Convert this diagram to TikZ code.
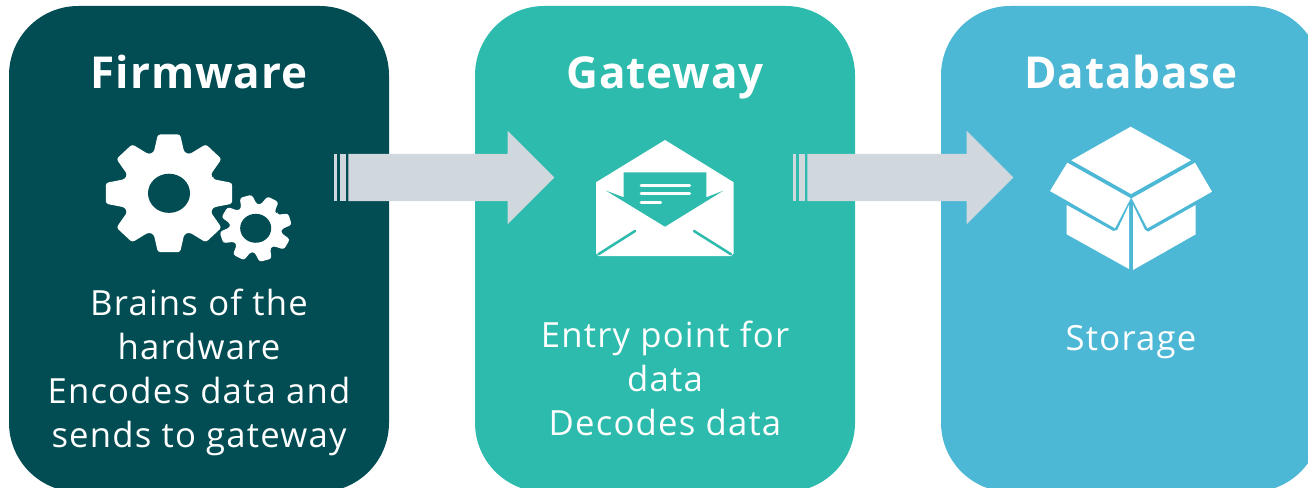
\documentclass[tikz,border=0pt]{standalone}
\usepackage{fontspec}
\setmainfont[LetterSpace=2]{Open Sans}
\newfontfamily\bodyfont[LetterSpace=3.5]{Open Sans}
\usetikzlibrary{shapes.arrows}
\definecolor{fwcolor}{HTML}{014D53}
\definecolor{gwcolor}{HTML}{2CBBAC}
\definecolor{dbcolor}{HTML}{4DB8D5}
\definecolor{arcolor}{HTML}{D0D8DE}
\tikzset{
	stagebox/.style={rounded corners=52pt, minimum width=285pt, minimum height=364.5pt, inner sep=0pt},
	titlelabel/.style={text=white, font=\fontsize{33}{36}\selectfont\bfseries, inner sep=0pt},
	bodylabel/.style={text=white, font=\bodyfont\fontsize{26}{33}\selectfont, align=center, inner sep=0pt},
	flowarrow/.style={single arrow, fill=arcolor, anchor=west, inner xsep=0pt, inner ysep=17.6pt, minimum height=154.5pt,
		single arrow head extend=17.25pt, single arrow tip angle=90},
	gaptick/.style={fill=arcolor}
}
\newcommand{\gearpath}[8]{% center, offset, outer, root, tip angle, base angle, hole, hole colour
	\begin{scope}[shift={#1}, xscale=1.035, yscale=.965]
	\fill[white, rounded corners=2pt] (#2-#6:#4)
	\foreach \k in {0,...,7} {
		-- (#2+\k*45-#6:#4) -- (#2+\k*45-#5:#3) -- (#2+\k*45+#5:#3) -- (#2+\k*45+#6:#4)
	} -- cycle;
	\fill[#8] (0,0) circle[radius=#7];
	\end{scope}
}
\begin{document}
\begin{tikzpicture}[x=.75pt, y=-.75pt]
	\useasboundingbox (0,0) rectangle (1308,488);
	\clip (0,0) rectangle (1308,488);
	\node[stagebox, fill=fwcolor] (firmware) at (199,249) {};
	\node[stagebox, fill=gwcolor] (gateway) at (665,249) {};
	\node[stagebox, fill=dbcolor] (database) at (1131,249) {};

	\node[titlelabel, anchor=base] (fwtitle) at (199,89) {Firmware};
	\node[titlelabel, anchor=base] (gwtitle) at (665,89) {Gateway};
	\node[titlelabel, anchor=base] (dbtitle) at (1131,89) {Database};

	\node[bodylabel] (fwtext) at (199,372.5) {Brains of the\\hardware\\Encodes data and\\sends to gateway};
	\node[bodylabel] (gwtext) at (665,378) {Entry point for\\data\\Decodes data};
	\node[bodylabel, anchor=base] (dbtext) at (1131,350) {Storage};

	% arrows between the boxes
	\node[flowarrow] (fwgw) at (348,177.5) {};
	\fill[gaptick] (334,154) rectangle (336.7,201);
	\fill[gaptick] (339.7,154) rectangle (345.7,201);
	\node[flowarrow] (gwdb) at (807,177.5) {};
	\fill[gaptick] (793,154) rectangle (795.7,201);
	\fill[gaptick] (798.7,154) rectangle (804.7,201);

	% gears
	\gearpath{(169,193.3)}{0}{62}{45}{10}{19}{20.3}{fwcolor}
	\gearpath{(255.7,228.3)}{-16}{35}{25}{10}{18}{15}{fwcolor}

	% envelope
	\fill[white] (665,140) -- (733.7,182.3) -- (733.7,253.3) -- (731,256) -- (598.3,256) -- (596,253.3) -- (596,182.3) -- cycle;
	\fill[gwcolor] (623.7,172.3) -- (706.3,172.3) -- (706.3,197.3) -- (723.3,190.7) -- (665,226.7) -- (606,190.7) -- (623.7,197.3) -- cycle;
	\foreach \ypos/\xend in {185.3/689.7, 193.7/689.7, 202.3/660.7}
		\draw[white, line width=2.2pt, line cap=round] (641,\ypos) -- (\xend,\ypos);
	\draw[gwcolor, line width=1.9pt, line cap=round] (635,231) -- (598.3,254.3);
	\draw[gwcolor, line width=1.9pt, line cap=round] (694,231) -- (731,254.3);

	% box
	\fill[white] (1130.7,126.7) -- (1191,160.3) -- (1131,194) -- (1071.3,160.3) -- cycle;
	\fill[white] (1067.3,162.7) -- (1130.7,198.3) -- (1115,228.3) -- (1050,191) -- cycle;
	\fill[white] (1195,162.7) -- (1131.7,198.3) -- (1147.3,228.3) -- (1212,191.7) -- cycle;
	\fill[white] (1066.7,205) -- (1113.3,231) -- (1117.3,230) -- (1129,205) -- (1129,269) -- (1066.7,234.3) -- cycle;
	\fill[white] (1195.7,205) -- (1148.3,231.7) -- (1145,230) -- (1133,205) -- (1133,270) -- (1195.7,234.3) -- cycle;
\end{tikzpicture}
\end{document}
